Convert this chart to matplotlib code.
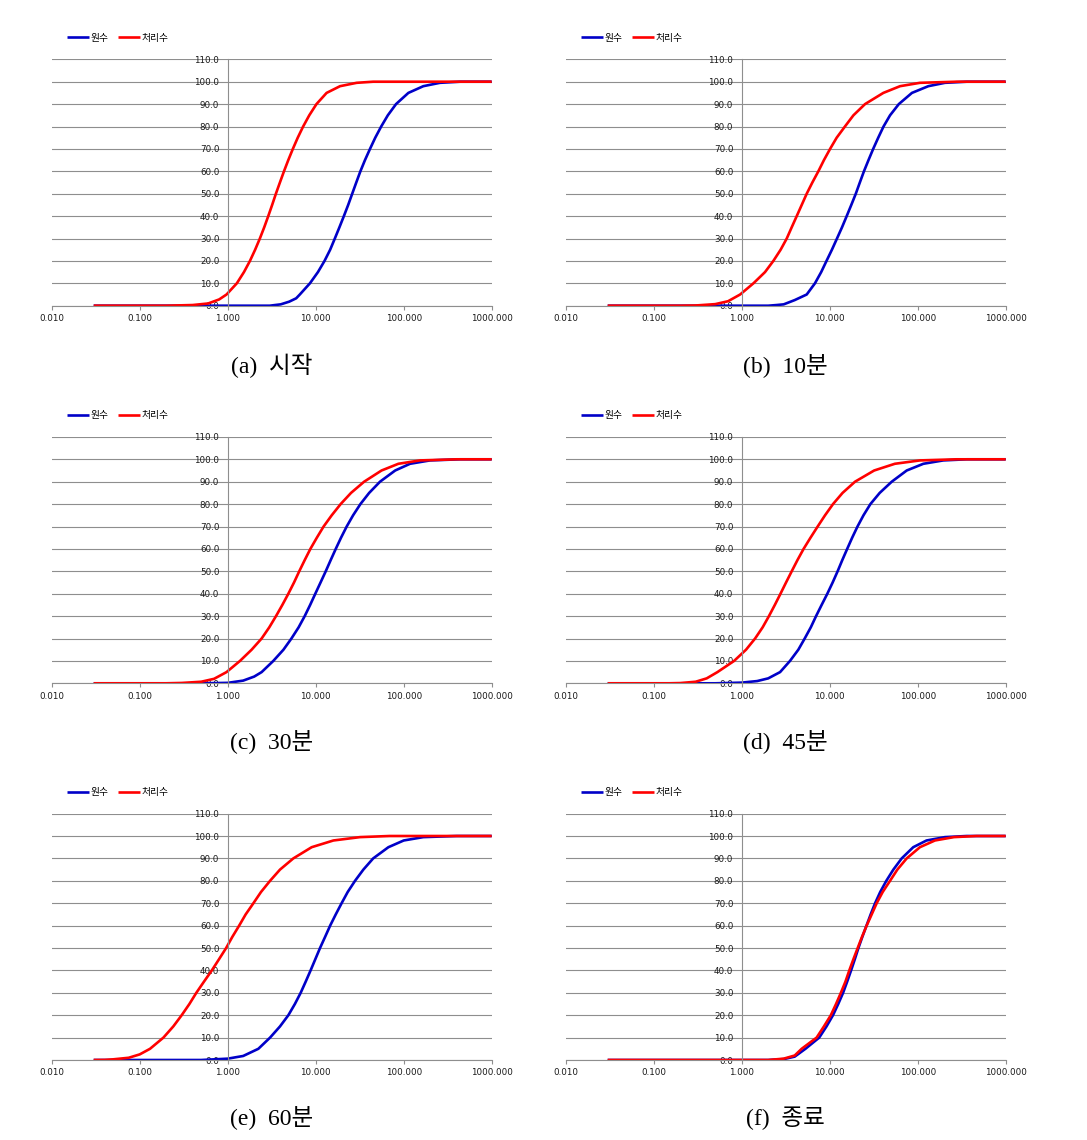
import matplotlib
matplotlib.use("Agg")
import matplotlib.pyplot as plt
from matplotlib.ticker import FixedLocator, FixedFormatter, NullLocator

# ---- data (particle size, cumulative %) ----
legend_labels = ["원수", "처리수"]
captions = ["(a)  시작", "(b)  10분", "(c)  30분", "(d)  45분", "(e)  60분", "(f)  종료"]
xtick_vals = [0.01, 0.1, 1, 10, 100, 1000]
xtick_labels = ["0.010", "0.100", "1.000", "10.000", "100.000", "1000.000"]
ytick_vals = [0, 10, 20, 30, 40, 50, 60, 70, 80, 90, 100, 110]

# cumulative-% levels at which sizes were read (after each series' low tail)
levels = [5, 10, 15, 20, 25, 30, 35, 40, 45, 50, 55, 60, 65, 70, 75, 80, 85, 90, 95, 98, 99.5, 100]

# (a) 시작
a_raw_tail_x = [0.03, 3.0, 4.0, 5.0, 6.0]
a_raw_tail_y = [0, 0, 0.6, 1.8, 3.3]
a_raw_x = [6.6, 8.6, 10.6, 12.6, 14.6, 16.5, 18.6, 20.9, 23.4, 26.0, 28.9, 32.2, 36.3, 41.4, 47.5, 55.5, 66, 81.8, 113, 167, 258, 437]
a_trt_tail_x = [0.03, 0.2, 0.4, 0.6, 0.8]
a_trt_tail_y = [0, 0, 0.3, 1.0, 2.8]
a_trt_x = [0.97, 1.27, 1.53, 1.79, 2.05, 2.32, 2.60, 2.89, 3.20, 3.53, 3.92, 4.36, 4.88, 5.50, 6.25, 7.20, 8.45, 10.2, 13.3, 18.9, 29.2, 45]

# (b) 10분
b_raw_tail_x = [0.03, 2.0, 2.5, 3.0, 4.0]
b_raw_tail_y = [0, 0, 0.3, 0.6, 2.5]
b_raw_x = [5.48, 6.8, 8.0, 9.2, 10.6, 12.1, 13.8, 15.6, 17.6, 19.8, 22.0, 24.5, 27.6, 31.2, 35.6, 40.9, 48.5, 61, 86, 132, 204, 361]
b_trt_tail_x = [0.03, 0.2, 0.3, 0.5, 0.7]
b_trt_tail_y = [0, 0, 0.1, 0.7, 2.0]
b_trt_x = [0.96, 1.36, 1.84, 2.29, 2.77, 3.25, 3.70, 4.22, 4.81, 5.48, 6.35, 7.43, 8.6, 10.1, 12.0, 14.9, 18.6, 25.2, 40.7, 63, 106, 277]

# (c) 30분
c_raw_tail_x = [0.03, 0.5, 1.0, 1.5, 2.0]
c_raw_tail_y = [0, 0, 0.2, 1.2, 3.0]
c_raw_x = [2.43, 3.3, 4.3, 5.3, 6.4, 7.5, 8.65, 9.9, 11.35, 13.0, 14.8, 16.9, 19.4, 22.5, 26.6, 32.2, 40.5, 53.8, 80, 118, 199, 437]
c_trt_tail_x = [0.03, 0.2, 0.3, 0.5, 0.7]
c_trt_tail_y = [0, 0, 0.15, 0.7, 2.0]
c_trt_x = [0.97, 1.38, 1.87, 2.43, 2.97, 3.54, 4.18, 4.89, 5.67, 6.5, 7.5, 8.7, 10.3, 12.3, 15.2, 19.2, 25.2, 35.5, 56, 87, 153, 400]

# (d) 45분
d_raw_tail_x = [0.03, 0.5, 1.0, 1.5, 2.0]
d_raw_tail_y = [0, 0, 0.3, 1.0, 2.2]
d_raw_x = [2.73, 3.54, 4.4, 5.2, 6.1, 7.0, 8.1, 9.4, 10.8, 12.3, 13.9, 15.8, 18.0, 20.7, 24.2, 29, 37, 50.7, 75, 116, 195, 361]
d_trt_tail_x = [0.03, 0.15, 0.2, 0.3, 0.4]
d_trt_tail_y = [0, 0, 0.1, 0.7, 2.2]
d_trt_x = [0.53, 0.82, 1.12, 1.42, 1.73, 2.04, 2.38, 2.76, 3.19, 3.7, 4.3, 5.05, 6.05, 7.3, 8.85, 10.9, 14.0, 19.4, 32, 55, 106, 277]

# (e) 60분
e_raw_tail_x = [0.03, 0.5, 1.0, 1.5]
e_raw_tail_y = [0, 0, 0.6, 1.8]
e_raw_x = [2.23, 3.03, 3.93, 4.89, 5.8, 6.75, 7.7, 8.75, 9.9, 11.2, 12.8, 14.6, 16.9, 19.7, 23.1, 28, 34.8, 45, 67, 100, 167, 400]
e_trt_tail_x = [0.03, 0.04, 0.05, 0.075, 0.1]
e_trt_tail_y = [0, 0.05, 0.3, 1.0, 2.5]
e_trt_x = [0.131, 0.186, 0.241, 0.30, 0.367, 0.44, 0.538, 0.66, 0.797, 0.96, 1.13, 1.35, 1.60, 1.96, 2.39, 3.03, 3.93, 5.57, 9.0, 15.9, 31.9, 69]

# (f) 종료
f_raw_tail_x = [0.03, 2.0, 3.0, 4.0]
f_raw_tail_y = [0, 0, 0.4, 1.5]
f_raw_x = [5.3, 7.6, 9.2, 10.9, 12.5, 14.2, 15.8, 17.5, 19.3, 21.2, 23.5, 26.2, 29.2, 32.8, 37.5, 44.0, 52.9, 65.8, 89, 126, 204, 361]
f_trt_tail_x = [0.03, 2.0, 3.0, 4.0]
f_trt_tail_y = [0, 0, 0.6, 2.0]
f_trt_x = [4.8, 7.1, 8.6, 10.3, 11.8, 13.4, 15.1, 16.7, 18.6, 20.8, 23.3, 26.3, 30, 34.2, 40, 48.5, 58.7, 75, 106, 157, 258, 466]

x_end = 1000

panels = [
    (a_raw_tail_x, a_raw_tail_y, a_raw_x, a_trt_tail_x, a_trt_tail_y, a_trt_x),
    (b_raw_tail_x, b_raw_tail_y, b_raw_x, b_trt_tail_x, b_trt_tail_y, b_trt_x),
    (c_raw_tail_x, c_raw_tail_y, c_raw_x, c_trt_tail_x, c_trt_tail_y, c_trt_x),
    (d_raw_tail_x, d_raw_tail_y, d_raw_x, d_trt_tail_x, d_trt_tail_y, d_trt_x),
    (e_raw_tail_x, e_raw_tail_y, e_raw_x, e_trt_tail_x, e_trt_tail_y, e_trt_x),
    (f_raw_tail_x, f_raw_tail_y, f_raw_x, f_trt_tail_x, f_trt_tail_y, f_trt_x),
]

BLUE = "#0000C8"
RED = "#FF0000"
GRID = "#8E8E8E"

W, H = 1087, 1140
fig = plt.figure(figsize=(W / 100, H / 100), dpi=100)

lefts = [51.7, 565.7]
bottoms_px = [305.7, 683.3, 1060.0]  # y of zero line from top
aw, ah = 440.0, 246.4
cap_y = [366, 742, 1118]


def series(tx, ty, lx):
    return tx + lx + [x_end], ty + levels + [100]


for i, (rtx, rty, rlx, ttx, tty, tlx) in enumerate(panels):
    r, c = divmod(i, 2)
    ax = fig.add_axes([lefts[c] / W, (H - bottoms_px[r]) / H, aw / W, ah / H])
    ax.set_xscale("log")
    ax.set_xlim(0.01, 1000)
    ax.set_ylim(0, 110)
    bx, by = series(rtx, rty, rlx)
    rx, ry = series(ttx, tty, tlx)
    ax.plot(bx, by, color=BLUE, lw=1.9, label=legend_labels[0],
            solid_joinstyle="round", solid_capstyle="butt")
    ax.plot(rx, ry, color=RED, lw=1.9, label=legend_labels[1],
            solid_joinstyle="round", solid_capstyle="butt")

    ax.xaxis.set_major_locator(FixedLocator(xtick_vals))
    ax.xaxis.set_major_formatter(FixedFormatter(xtick_labels))
    ax.xaxis.set_minor_locator(NullLocator())
    ax.yaxis.set_major_locator(FixedLocator(ytick_vals))
    ax.yaxis.set_major_formatter(FixedFormatter([f"{v:.1f}" for v in ytick_vals]))
    ax.yaxis.set_minor_locator(NullLocator())

    for s in ("top", "right"):
        ax.spines[s].set_visible(False)
    ax.spines["left"].set_position(("data", 1.0))
    ax.spines["left"].set_color(GRID)
    ax.spines["left"].set_linewidth(0.8)
    ax.spines["bottom"].set_color(GRID)
    ax.spines["bottom"].set_linewidth(0.8)

    ax.tick_params(axis="x", direction="out", length=3, width=0.8, color=GRID,
                   labelsize=6.3, pad=3, labelcolor="#1a1a1a")
    ax.tick_params(axis="y", length=0, labelsize=6.3, pad=6, labelcolor="#1a1a1a")
    ax.yaxis.grid(True, color=GRID, lw=0.8)
    ax.set_axisbelow(True)
    for lab in ax.get_xticklabels() + ax.get_yticklabels():
        lab.set_fontfamily("DejaVu Sans")

    ax.legend(loc="center left", bbox_to_anchor=(0.035, 1.088), ncol=2,
              frameon=False, borderpad=0, borderaxespad=0,
              handlelength=2.3, handletextpad=0.15, columnspacing=0.9,
              prop={"family": ["Noto Sans CJK KR", "DejaVu Sans"], "size": 7})

    fig.text((lefts[c] + aw / 2) / W, (H - cap_y[r]) / H, captions[i],
             ha="center", va="center", fontsize=17,
             family=["Liberation Serif", "Noto Sans CJK KR"])

fig.savefig("out.png", dpi=100)
